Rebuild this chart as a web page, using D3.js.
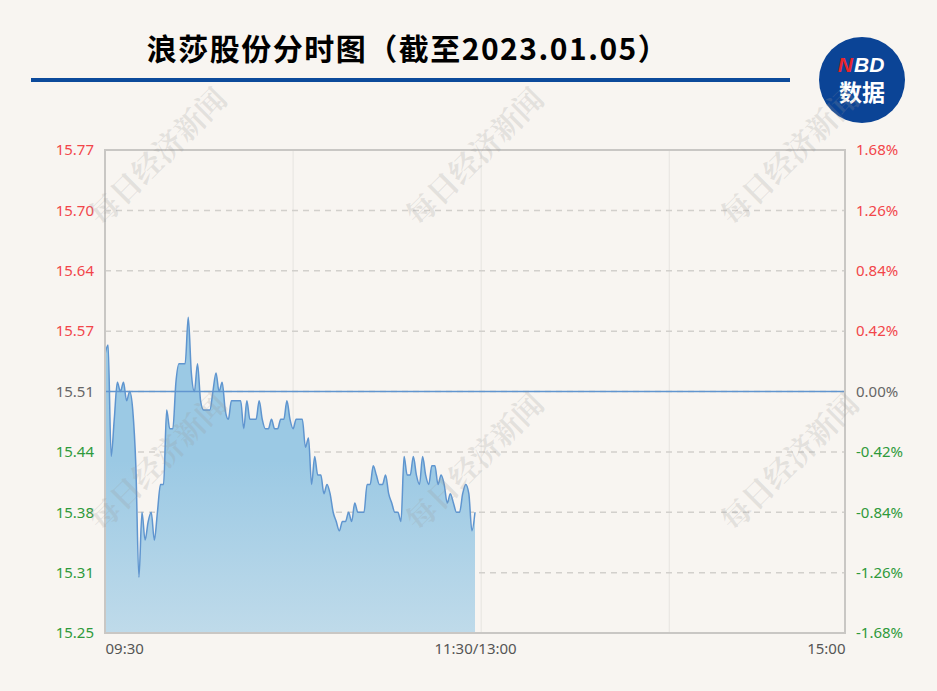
<!DOCTYPE html>
<html>
<head>
<meta charset="utf-8">
<script src="https://cdn.jsdelivr.net/npm/d3@7"></script>
<style>
    body { margin: 0; background: #f8f5f1; }
    svg { display: block; }
</style>
</head>
<body>
<div id="charts"></div>
<script>
// minute-by-minute price, 09:30 .. 11:30
const prices = [
    15.55, 15.56, 15.44, 15.48, 15.52, 15.51, 15.52, 15.50, 15.51, 15.49,
    15.43, 15.31, 15.38, 15.35, 15.37, 15.38, 15.35, 15.38, 15.41, 15.41,
    15.49, 15.47, 15.47, 15.52, 15.54, 15.54, 15.54, 15.59, 15.53, 15.51,
    15.54, 15.50, 15.49, 15.49, 15.49, 15.51, 15.53, 15.51, 15.52, 15.49,
    15.48, 15.50, 15.50, 15.50, 15.50, 15.47, 15.50, 15.48, 15.48, 15.48,
    15.50, 15.48, 15.47, 15.47, 15.48, 15.47, 15.47, 15.48, 15.48, 15.50,
    15.48, 15.47, 15.48, 15.48, 15.48, 15.45, 15.46, 15.41, 15.44, 15.42,
    15.42, 15.40, 15.41, 15.40, 15.38, 15.37, 15.36, 15.37, 15.37, 15.38,
    15.37, 15.39, 15.38, 15.38, 15.38, 15.41, 15.41, 15.43, 15.42, 15.41,
    15.41, 15.42, 15.40, 15.39, 15.38, 15.38, 15.37, 15.44, 15.42, 15.42,
    15.44, 15.42, 15.41, 15.44, 15.42, 15.41, 15.43, 15.43, 15.41, 15.42,
    15.41, 15.39, 15.40, 15.39, 15.38, 15.38, 15.40, 15.41, 15.40, 15.36,
    15.38
];
const prevClose = 15.51;
const priceTicks = [15.25, 15.315, 15.38, 15.445, 15.51, 15.575, 15.64, 15.705, 15.77];
const priceLabels = ["15.25", "15.31", "15.38", "15.44", "15.51", "15.57", "15.64", "15.70", "15.77"];
const pctLabels = ["-1.68%", "-1.26%", "-0.84%", "-0.42%", "0.00%", "0.42%", "0.84%", "1.26%", "1.68%"];
const timeTicks = [0, 120, 240];
const timeLabels = ["09:30", "11:30/13:00", "15:00"];
const gridMinutes = [61, 122, 183];
const titleText = "浪莎股份分时图（截至2023.01.05）";
const watermarkText = "每日经济新闻";

const W = 937, H = 691;
let margin = {top: 150, right: 92, bottom: 58, left: 105},
    width = W - margin.left - margin.right,
    height = H - margin.top - margin.bottom;

const RED = "#f2464a", GREEN = "#2f9a3b", GRAY = "#666666";

let svg = d3.select("#charts").append("svg")
    .attr("width", W)
    .attr("height", H);

svg.append("rect")
    .attr("width", W)
    .attr("height", H)
    .attr("fill", "#f8f5f1");

let defs = svg.append("defs");
let grad = defs.append("linearGradient")
    .attr("id", "areaFill")
    .attr("gradientUnits", "userSpaceOnUse")
    .attr("x1", 0).attr("x2", 0)
    .attr("y1", margin.top + 160).attr("y2", margin.top + height);
grad.append("stop").attr("offset", 0).attr("stop-color", "#9bc9e4");
grad.append("stop").attr("offset", 0.55).attr("stop-color", "#c0dbea");
grad.append("stop").attr("offset", 1).attr("stop-color", "#dce8ee");

// title + rule
svg.append("text")
    .attr("x", 408)
    .attr("y", 60)
    .attr("text-anchor", "middle")
    .style("font-family", "'Noto Sans CJK SC', sans-serif")
    .style("font-weight", "bold")
    .style("font-size", "30px")
    .style("letter-spacing", "1.5px")
    .attr("fill", "#000")
    .text(titleText);

svg.append("rect")
    .attr("x", 31)
    .attr("y", 78)
    .attr("width", 759)
    .attr("height", 4)
    .attr("fill", "#0c4a9b");

// NBD logo
let logo = svg.append("g").attr("transform", "translate(862,80)");
logo.append("circle").attr("r", 43).attr("fill", "#0b4496");
logo.append("text")
    .attr("x", -9).attr("y", -8)
    .attr("text-anchor", "end")
    .style("font-family", "'Liberation Sans', Arial, sans-serif")
    .style("font-weight", "bold")
    .style("font-style", "italic")
    .style("font-size", "21px")
    .attr("fill", "#e8262d")
    .text("N");
logo.append("text")
    .attr("x", -8).attr("y", -8)
    .attr("text-anchor", "start")
    .style("font-family", "'Liberation Sans', Arial, sans-serif")
    .style("font-weight", "bold")
    .style("font-style", "italic")
    .style("font-size", "21px")
    .attr("fill", "#ffffff")
    .text("BD");
logo.append("text")
    .attr("x", 0).attr("y", 21)
    .attr("text-anchor", "middle")
    .style("font-family", "'Noto Sans CJK SC', sans-serif")
    .style("font-weight", "bold")
    .style("font-size", "23px")
    .attr("fill", "#ffffff")
    .text("数据");

let x = d3.scaleLinear().domain([0, 240]).range([0, width]);
let y = d3.scaleLinear().domain([15.25, 15.77]).range([height, 0]);

let g = svg.append("g")
    .attr("transform", "translate(" + margin.left + "," + margin.top + ")");

// grid
g.selectAll(".vgrid")
    .data(gridMinutes)
    .enter().append("line")
    .attr("x1", function (d) { return x(d); })
    .attr("x2", function (d) { return x(d); })
    .attr("y1", 0).attr("y2", height)
    .attr("stroke", "#e6e4e0")
    .attr("stroke-width", 1);

g.selectAll(".hgrid")
    .data(priceTicks.slice(1, -1))
    .enter().append("line")
    .attr("x1", 0).attr("x2", width)
    .attr("y1", function (d) { return y(d); })
    .attr("y2", function (d) { return y(d); })
    .attr("stroke", "#d2d0cc")
    .attr("stroke-width", 1.5)
    .attr("stroke-dasharray", "6,5");

// area + line
let area = d3.area()
    .x(function (d, i) { return x(i); })
    .y0(height)
    .y1(function (d) { return y(d); })
    .curve(d3.curveMonotoneX);
let line = d3.line()
    .x(function (d, i) { return x(i); })
    .y(function (d) { return y(d); })
    .curve(d3.curveMonotoneX);

g.append("path")
    .datum(prices)
    .attr("d", area)
    .attr("fill", "url(#areaFill)");

g.append("line")
    .attr("x1", 0).attr("x2", width)
    .attr("y1", y(prevClose)).attr("y2", y(prevClose))
    .attr("stroke", "#6196d0")
    .attr("stroke-width", 1.5);

g.append("path")
    .datum(prices)
    .attr("d", line)
    .attr("fill", "none")
    .attr("stroke", "#5f95cf")
    .attr("stroke-width", 1.5);

// border
g.append("rect")
    .attr("x", 0).attr("y", 0)
    .attr("width", width).attr("height", height)
    .attr("fill", "none")
    .attr("stroke", "#c9c7c4")
    .attr("stroke-width", 2);

function tickColor(i) {
    return i < 4 ? GREEN : (i > 4 ? RED : GRAY);
}

// axes
let yLeft = d3.axisLeft(y).tickValues(priceTicks).tickSize(0).tickPadding(11)
    .tickFormat(function (d, i) { return priceLabels[i]; });
let yLeftEL = g.append("g").call(yLeft);
yLeftEL.select(".domain").remove();
yLeftEL.selectAll("text")
    .style("font-family", "'Noto Sans', sans-serif")
    .style("font-size", "15px")
    .attr("fill", function (d, i) { return tickColor(i); });

let yRight = d3.axisRight(y).tickValues(priceTicks).tickSize(0).tickPadding(11)
    .tickFormat(function (d, i) { return pctLabels[i]; });
let yRightEL = g.append("g").attr("transform", "translate(" + width + ",0)").call(yRight);
yRightEL.select(".domain").remove();
yRightEL.selectAll("text")
    .style("font-family", "'Noto Sans', sans-serif")
    .style("font-size", "15px")
    .attr("fill", function (d, i) { return tickColor(i); });

let xAxis = d3.axisBottom(x).tickValues(timeTicks).tickSize(0).tickPadding(10)
    .tickFormat(function (d, i) { return timeLabels[i]; });
let xAxisEL = g.append("g").attr("transform", "translate(0," + height + ")").call(xAxis);
xAxisEL.select(".domain").remove();
xAxisEL.selectAll("text")
    .style("font-family", "'Noto Sans', sans-serif")
    .style("font-size", "15px")
    .attr("fill", "#555555")
    .attr("text-anchor", function (d, i) { return i === 0 ? "start" : (i === 2 ? "end" : "middle"); });

// watermarks
let marks = [];
[158, 475, 790].forEach(function (cx) {
    [157, 462].forEach(function (cy) { marks.push([cx, cy]); });
});
svg.selectAll(".wm")
    .data(marks)
    .enter().append("text")
    .attr("transform", function (d) { return "translate(" + d[0] + "," + d[1] + ") rotate(-45)"; })
    .attr("text-anchor", "middle")
    .attr("dy", "0.35em")
    .style("font-family", "'Noto Serif CJK SC', 'Noto Sans CJK SC', sans-serif")
    .style("font-weight", "bold")
    .style("font-size", "30px")
    .attr("fill", "#9a9a9a")
    .attr("fill-opacity", 0.22)
    .text(watermarkText);
</script>
</body>
</html>
